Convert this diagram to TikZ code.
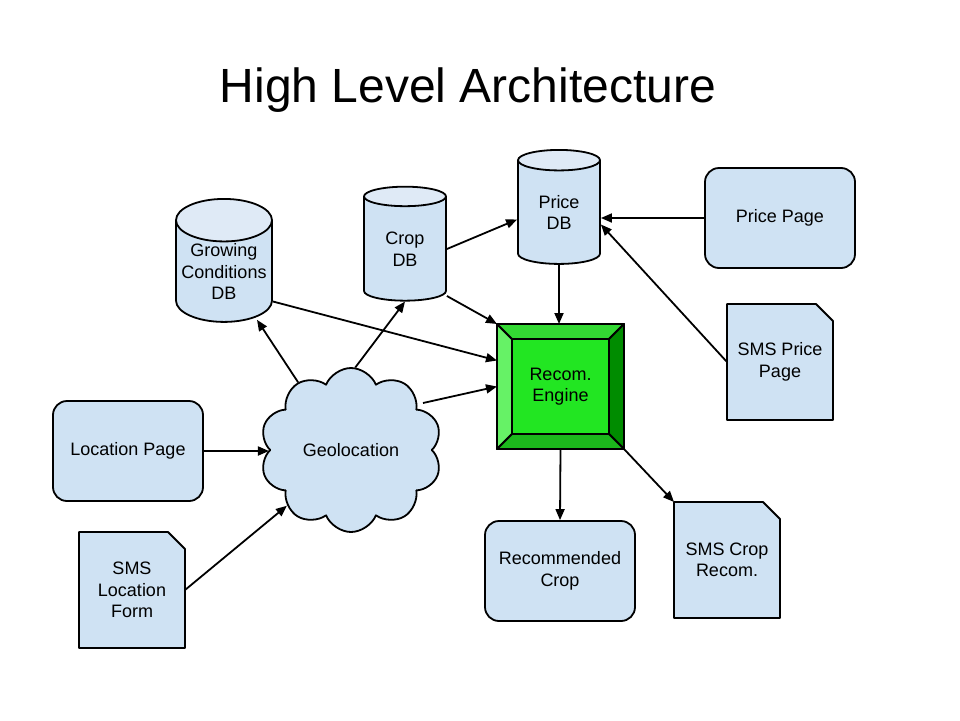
\documentclass[tikz,border=0pt]{standalone}
\usepackage{fontspec}
\setmainfont{Liberation Sans}
\usetikzlibrary{shapes.geometric,shapes.symbols,arrows.meta}
\definecolor{BoxBlue}{HTML}{CFE2F3}
\definecolor{BoxTop}{HTML}{DFEAF6}
\definecolor{EngCenter}{HTML}{22E622}
\definecolor{EngLeft}{HTML}{66F266}
\definecolor{EngTop}{HTML}{33D833}
\definecolor{EngBottom}{HTML}{1CB81C}
\definecolor{EngRight}{HTML}{008C00}
\begin{document}
\begin{tikzpicture}[x=1pt,y=-1pt,
    every node/.style={font=\fontsize{18}{21.5}\selectfont, text=black, align=center},
    outline/.style={line width=1.8pt, line join=round},
    page/.style={outline, draw, fill=BoxBlue, rounded corners=14pt, minimum width=150pt, minimum height=100pt},
    doc/.style={fill=BoxBlue, outer sep=0pt, minimum width=106pt, minimum height=116pt,
        path picture={\fill[white] (path picture bounding box.north east) -- ++(-17,0) -- ++(17,17) -- cycle;}},
    db/.style={outline, draw, cylinder, shape border rotate=90, aspect=0.5, inner sep=0pt,
        cylinder uses custom fill, cylinder body fill=BoxBlue, cylinder end fill=BoxTop},
    conn/.style={line width=1.8pt, -{Triangle[length=11pt,width=9pt]}}]
    \fill[white] (0,0) rectangle (960,720);
    \useasboundingbox (0,0) rectangle (960,720);
    \node[font=\fontsize{48}{56}\selectfont] (Title) at (468,90) {High Level Architecture};
    % pages and sms documents
    \node[page] (LocationPage) at (128,451) {Location Page};
    \node[page] (PricePage)    at (780,218) {Price Page};
    \node[page] (RecCrop)      at (560,571) {Recommended\\Crop};
    \node[doc] (SmsLocation) at (132,590) {SMS\\Location\\Form};
    \node[doc] (SmsPrice)    at (780,362) {SMS Price\\Page};
    \node[doc] (SmsCrop)     at (727,560) {SMS Crop\\Recom.};
    \foreach \d in {SmsLocation,SmsPrice,SmsCrop}
        \draw[outline] (\d.south west) -- (\d.north west) -- ([xshift=-17pt]\d.north east)
            -- ([yshift=-17pt]\d.north east) -- (\d.south east) -- cycle;
    % databases
    \node[db, minimum width=96pt, minimum height=123pt] (GrowDB)  at (224,271.5) {Growing\\Conditions\\DB};
    \node[db, minimum width=82pt, minimum height=114pt] (CropDB)  at (405,249) {Crop\\DB};
    \node[db, minimum width=82pt, minimum height=114pt] (PriceDB) at (559,212.5) {Price\\DB};
    % geolocation cloud
    \node[outline, draw, fill=BoxBlue, cloud, cloud puffs=10, cloud puff arc=135, aspect=1.1,
        minimum width=182pt, minimum height=164pt] (Geo) at (351,450) {Geolocation};
    % recommendation engine
    \node[outline, draw, fill=EngCenter, minimum width=127pt, minimum height=125pt, outer sep=0pt] (Engine) at (560.5,386.5) {Recom.\\Engine};
    \coordinate (EngNW) at ([xshift=15pt,yshift=-15pt]Engine.north west);
    \coordinate (EngNE) at ([xshift=-15pt,yshift=-15pt]Engine.north east);
    \coordinate (EngSW) at ([xshift=15pt,yshift=15pt]Engine.south west);
    \coordinate (EngSE) at ([xshift=-15pt,yshift=15pt]Engine.south east);
    \filldraw[outline, fill=EngLeft]   (Engine.north west) -- (Engine.south west) -- (EngSW) -- (EngNW) -- cycle;
    \filldraw[outline, fill=EngTop]    (Engine.north west) -- (Engine.north east) -- (EngNE) -- (EngNW) -- cycle;
    \filldraw[outline, fill=EngRight]  (Engine.north east) -- (Engine.south east) -- (EngSE) -- (EngNE) -- cycle;
    \filldraw[outline, fill=EngBottom] (Engine.south west) -- (Engine.south east) -- (EngSE) -- (EngSW) -- cycle;
    \draw[outline] (EngNW) rectangle (EngSE);
    % connectors
    \draw[conn] (LocationPage.east) -- (LocationPage.east -| Geo.west);
    \draw[conn] (SmsLocation.east) -- (Geo.221);
    \draw[conn] (Geo.128) -- ([xshift=33pt,yshift=3pt]GrowDB.bottom);
    \draw[conn] (Geo.87) -- (CropDB.bottom);
    \draw[conn] ([xshift=-10pt,yshift=47pt]Geo.east) -- (Engine.west);
    \draw[conn] ([yshift=-30pt]GrowDB.east) -- ([yshift=26pt]Engine.west);
    \draw[conn] (CropDB.east) -- ([yshift=-7pt]PriceDB.west);
    \draw[conn] ([yshift=-47pt]CropDB.east) -- (Engine.north west);
    \draw[conn] (PriceDB.bottom) -- (PriceDB.bottom |- Engine.north);
    \draw[conn] (PricePage.west) -- (PricePage.west -| PriceDB.east);
    \draw[conn] (SmsPrice.west) -- ([yshift=-12pt]PriceDB.east);
    \draw[conn] (Engine.south) -- (RecCrop.north);
    \draw[conn] (Engine.south east) -- (SmsCrop.north west);
\end{tikzpicture}
\end{document}
